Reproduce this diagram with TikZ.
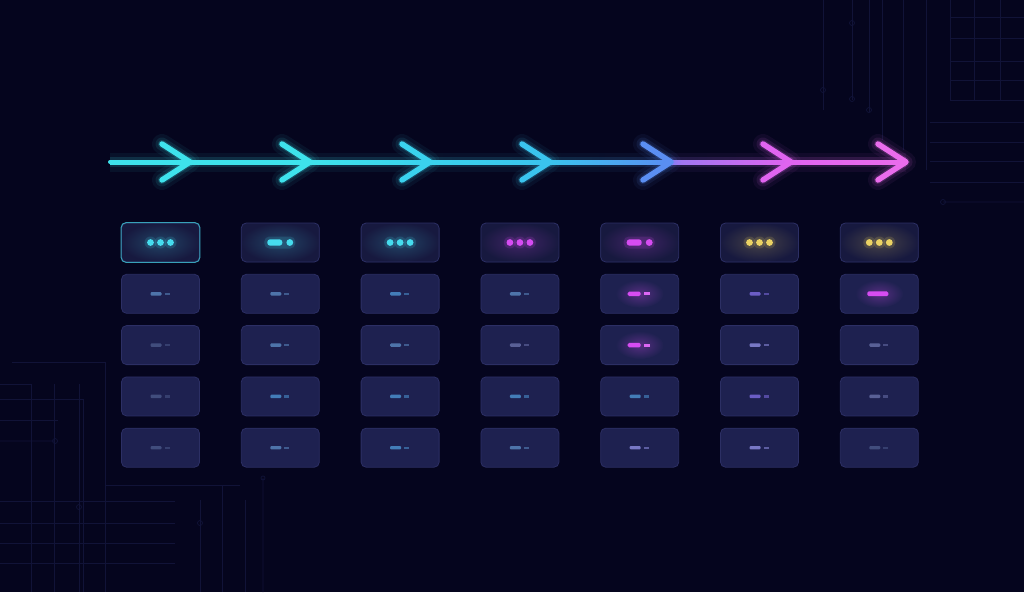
\documentclass[tikz,border=0pt]{standalone}
\usepackage{xcolor}
\usepackage{tikz}
\usetikzlibrary{arrows.meta,positioning,calc}

\definecolor{bgnavy}{HTML}{05051E}
\definecolor{gridline}{HTML}{111338}
\definecolor{cellfill}{HTML}{1E2150}
\definecolor{cellline}{HTML}{2C2F64}
\definecolor{topfill}{HTML}{17193F}
\definecolor{cyanA}{HTML}{3EE2EC}
\definecolor{cyanB}{HTML}{3AD2EE}
\definecolor{cyanC}{HTML}{3AC4EE}
\definecolor{blueD}{HTML}{5A8EF2}
\definecolor{violetD}{HTML}{9A78F2}
\definecolor{pinkE}{HTML}{E064F0}
\definecolor{pinkF}{HTML}{EA6CEC}
\definecolor{dotcyan}{HTML}{46DCEE}
\definecolor{dotmag}{HTML}{D64CF2}
\definecolor{dotyel}{HTML}{EAD264}
\definecolor{mkfaint}{HTML}{4A5888}
\definecolor{mkblue}{HTML}{5A88C0}
\definecolor{mkbright}{HTML}{4C94D2}
\definecolor{mklav}{HTML}{8E8EE2}
\definecolor{mkviolet}{HTML}{7E6CE2}
\definecolor{mkgray}{HTML}{6870A8}

\tikzset{
  cell/.style={draw=cellline, fill=cellfill, rounded corners=5pt, line width=0.8pt,
    minimum width=78pt, minimum height=39pt, inner sep=0pt},
  topcell/.style={cell, shading=radial, inner color=#1, outer color=topfill},
  bggrid/.style={draw=gridline, line width=0.7pt},
  chev/.style={line width=5.5pt, line cap=round, line join=round},
}

\begin{document}
\begin{tikzpicture}[x=1pt, y=-1pt]
    % Page and background
    \useasboundingbox (0,0) rectangle (1024,592);
    \fill[bgnavy] (0,0) rectangle (1024,592);

    % Faint circuit grid, top right
    \foreach \x in {950,974,1000} \draw[bggrid] (\x,0) -- (\x,100);
    \foreach \y in {17,38,61,80,100} \draw[bggrid] (950,\y) -- (1024,\y);
    \foreach \x/\y in {823/110,852/100,869/112,882/140,903/150,926/170} \draw[bggrid] (\x,0) -- (\x,\y);
    \foreach \y in {122,142,161,182} \draw[bggrid] (930,\y) -- (1024,\y);
    \draw[bggrid] (943,202) circle (2.5) -- (1024,202);
    \foreach \x/\y in {852/23,823/90,869/110,852/99} \draw[bggrid] (\x,\y) circle (2.5);

    % Faint circuit grid, bottom left
    \foreach \x in {31,54,79,105} \draw[bggrid] (\x,384) -- (\x,592);
    \draw[bggrid] (12,362) -- (105,362) -- (105,485) -- (240,485);
    \draw[bggrid] (0,384) -- (31,384);
    \draw[bggrid] (0,399) -- (83,399) -- (83,592);
    \draw[bggrid] (0,420) -- (58,420);
    \draw[bggrid] (0,441) -- (55,441) circle (2.5);
    \foreach \y in {501,523,543,563} \draw[bggrid] (0,\y) -- (175,\y);
    \draw[bggrid] (79,507) circle (2.5);
    \draw[bggrid] (200,500) -- (200,592);
    \draw[bggrid] (200,523) circle (2.5);
    \draw[bggrid] (222,485) -- (222,592);
    \draw[bggrid] (245,500) -- (245,592);
    \draw[bggrid] (263,478) circle (2) -- (263,592);

    % Arrow line
    \coordinate (start) at (110,162);
    \foreach \k/\x in {1/190,2/310,3/430,4/550,5/671,6/791,7/906}
        \coordinate (t\k) at (\x,162);
    \foreach \a/\b/\ca/\cb in {start/t1/cyanA/cyanA, t1/t2/cyanA/cyanA, t2/t3/cyanA/cyanB,
        t3/t4/cyanB/cyanC, t4/t5/cyanC/blueD, t5/t6/violetD/pinkE, t6/t7/pinkE/pinkF} {
        \shade[left color=\ca, right color=\cb, opacity=0.06] ([yshift=-9pt]\a) rectangle ([yshift=9pt]\b);
        \shade[left color=\ca, right color=\cb, opacity=0.14] ([yshift=-4.5pt]\a) rectangle ([yshift=4.5pt]\b);
        \shade[left color=\ca, right color=\cb] ([yshift=-2pt]\a) rectangle ([yshift=2pt]\b);
    }
    \fill[cyanA] (start) circle (2pt);

    % Chevrons
    \foreach \k/\col in {1/cyanA,2/cyanA,3/cyanB,4/cyanC,5/blueD,6/pinkE,7/pinkF} {
        \draw[chev, \col, opacity=0.06, line width=20pt] ($(t\k)+(-28,-18)$) -- (t\k) -- ($(t\k)+(-28,18)$);
        \draw[chev, \col, opacity=0.10, line width=13pt] ($(t\k)+(-28,-18)$) -- (t\k) -- ($(t\k)+(-28,18)$);
        \draw[chev, \col, opacity=0.18, line width=8pt] ($(t\k)+(-28,-18)$) -- (t\k) -- ($(t\k)+(-28,18)$);
        \draw[chev, \col] ($(t\k)+(-28,-18)$) -- (t\k) -- ($(t\k)+(-28,18)$);
    }

    % Top row of cells
    \foreach \c/\glow in {1/dotcyan,2/dotcyan,3/dotcyan,4/dotmag,5/dotmag,6/dotyel,7/dotyel}
        \node[topcell=\glow!22!topfill] (cell-\c-1) at ({160.5+119.8*(\c-1)},242.5) {};
    \draw[dotcyan!70!topfill, rounded corners=5pt, line width=1pt] (cell-1-1.north west) rectangle (cell-1-1.south east);

    % Other rows
    \foreach \r in {2,...,5}
        \foreach \c in {1,...,7}
            \node[cell] (cell-\c-\r) at ({160.5+119.8*(\c-1)},{242.5+51.3*(\r-1)}) {};

    % Three dots
    \foreach \c/\col in {1/dotcyan,3/dotcyan,4/dotmag,6/dotyel,7/dotyel}
        \foreach \dx in {-10,0,10} {
            \fill[\col, opacity=0.15] ([xshift=\dx pt]cell-\c-1.center) circle (6pt);
            \fill[\col] ([xshift=\dx pt]cell-\c-1.center) circle (3.4pt);
        }

    % Dash and dot
    \foreach \c/\col in {2/dotcyan,5/dotmag} {
        \fill[\col, opacity=0.15, rounded corners=5pt] ([xshift=-16pt,yshift=-6pt]cell-\c-1.center) rectangle ([xshift=15pt,yshift=6pt]cell-\c-1.center);
        \fill[\col, rounded corners=2.8pt] ([xshift=-13pt,yshift=-3.2pt]cell-\c-1.center) rectangle ([xshift=2pt,yshift=3.2pt]cell-\c-1.center);
        \fill[\col] ([xshift=9.5pt]cell-\c-1.center) circle (3.4pt);
    }

    % Glowing magenta marks
    \foreach \c/\r in {5/2,5/3,7/2}
        \shade[inner color=dotmag!30!cellfill, outer color=cellfill] (cell-\c-\r.center) ellipse (24pt and 14pt);

    % Small marks in lower rows
    \foreach \c/\r/\col in {1/2/mkblue,1/3/mkfaint,1/4/mkfaint,1/5/mkfaint,
        2/2/mkblue,2/3/mkblue,2/4/mkbright,2/5/mkblue,
        3/2/mkbright,3/3/mkblue,3/4/mkbright,3/5/mkbright,
        4/2/mkblue,4/3/mkgray,4/4/mkbright,4/5/mkblue,
        5/4/mkbright,5/5/mklav,
        6/2/mkviolet,6/3/mklav,6/4/mkviolet,6/5/mklav,
        7/3/mkgray,7/4/mkgray,7/5/mkfaint} {
        \fill[\col!80!cellfill, rounded corners=1pt] ([xshift=-10pt,yshift=-1.7pt]cell-\c-\r.center) rectangle ([xshift=1pt,yshift=1.7pt]cell-\c-\r.center);
        \fill[\col!55!cellfill] ([xshift=4pt,yshift=-1.2pt]cell-\c-\r.center) rectangle ([xshift=9pt,yshift=1.2pt]cell-\c-\r.center);
    }
    \foreach \r in {2,3} {
        \fill[dotmag, rounded corners=1.5pt] ([xshift=-12pt,yshift=-2.2pt]cell-5-\r.center) rectangle ([xshift=1pt,yshift=2.2pt]cell-5-\r.center);
        \fill[dotmag!85!white] ([xshift=4pt,yshift=-1.6pt]cell-5-\r.center) rectangle ([xshift=10pt,yshift=1.6pt]cell-5-\r.center);
    }
    \fill[dotmag, rounded corners=1.5pt] ([xshift=-12pt,yshift=-2.4pt]cell-7-2.center) rectangle ([xshift=9pt,yshift=2.4pt]cell-7-2.center);
\end{tikzpicture}
\end{document}
